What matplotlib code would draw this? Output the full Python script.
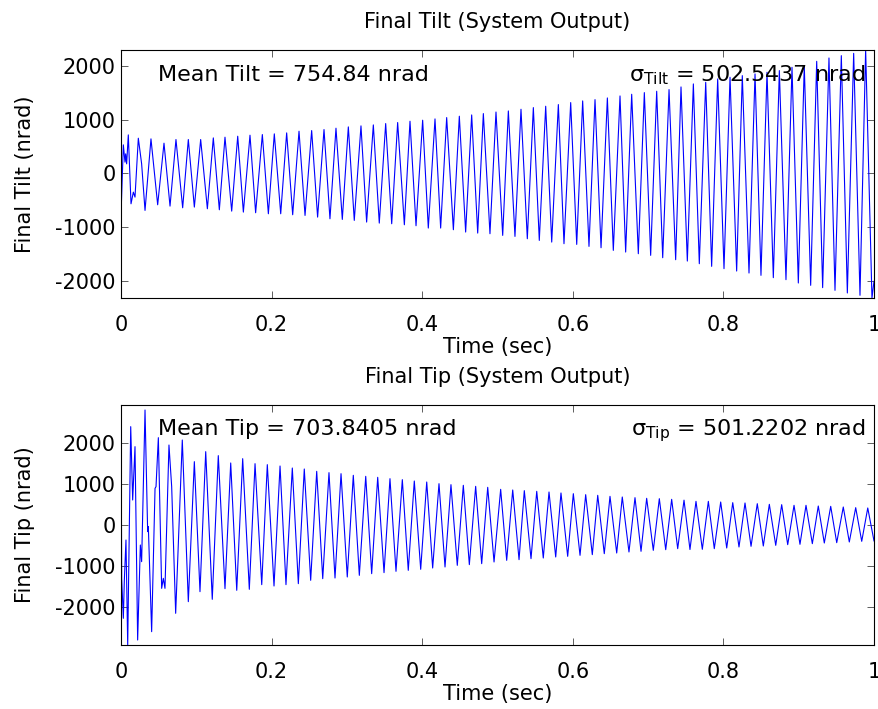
import numpy as np
import matplotlib.pyplot as plt

plt.rcParams['font.family'] = ['DejaVu Sans']
plt.rcParams['mathtext.default'] = 'regular'
plt.rcParams['axes.unicode_minus'] = False

# peaks / troughs (time in sec, value in nrad)
tilt_time = [0.0000, 0.0031, 0.0053, 0.0062, 0.0075, 0.0097, 0.0133, 0.0164, 0.0186, 0.0230,
             0.0274, 0.0319, 0.0398, 0.0487, 0.0571, 0.0651, 0.0730, 0.0819, 0.0894, 0.0974,
             0.1058, 0.1147, 0.1226, 0.1306, 0.1381, 0.1470, 0.1550, 0.1625, 0.1713, 0.1788,
             0.1877, 0.1957, 0.2036, 0.2121, 0.2200, 0.2280, 0.2364, 0.2444, 0.2532, 0.2611,
             0.2696, 0.2775, 0.2855, 0.2939, 0.3019, 0.3098, 0.3187, 0.3262, 0.3351, 0.3430,
             0.3515, 0.3595, 0.3674, 0.3763, 0.3838, 0.3918, 0.4006, 0.4081, 0.4170, 0.4245,
             0.4325, 0.4414, 0.4493, 0.4577, 0.4657, 0.4737, 0.4812, 0.4900, 0.4980, 0.5069,
             0.5144, 0.5232, 0.5312, 0.5396, 0.5476, 0.5555, 0.5640, 0.5720, 0.5808, 0.5883,
             0.5972, 0.6052, 0.6131, 0.6215, 0.6295, 0.6375, 0.6459, 0.6538, 0.6627, 0.6702,
             0.6782, 0.6870, 0.6950, 0.7034, 0.7114, 0.7194, 0.7278, 0.7366, 0.7437, 0.7521,
             0.7601, 0.7680, 0.7765, 0.7844, 0.7924, 0.8008, 0.8088, 0.8176, 0.8251, 0.8340,
             0.8420, 0.8499, 0.8579, 0.8663, 0.8743, 0.8831, 0.8911, 0.8995, 0.9074, 0.9159,
             0.9239, 0.9318, 0.9402, 0.9482, 0.9566, 0.9646, 0.9730, 0.9814, 0.9889, 0.9973,
             1.0000]
tilt_nrad = [-778, 531, 210, 364, 179, 716, -562, -346, -438, 654,
             179, -685, 642, -580, 562, -605, 630, -636, 630, -623,
             630, -654, 660, -673, 673, -698, 691, -716, 710, -728,
             722, -747, 735, -747, 753, -765, 784, -778, 796, -809,
             815, -840, 840, -852, 864, -870, 883, -901, 901, -920,
             926, -932, 945, -951, 969, -969, 988, -1012, 1012, -1012,
             1037, -1043, 1062, -1086, 1086, -1105, 1111, -1117, 1140, -1148,
             1160, -1167, 1191, -1210, 1222, -1241, 1247, -1272, 1278, -1302,
             1315, -1315, 1346, -1352, 1370, -1377, 1401, -1426, 1438, -1457,
             1469, -1488, 1500, -1518, 1525, -1562, 1556, -1599, 1605, -1624,
             1661, -1673, 1691, -1722, 1753, -1765, 1784, -1809, 1815, -1846,
             1846, -1889, 1877, -1932, 1908, -1969, 1969, -2031, 2000, -2074,
             2080, -2117, 2142, -2167, 2185, -2216, 2228, -2259, 2290, -2309,
             -2000]

tip_time = [0.0000, 0.0009, 0.0031, 0.0044, 0.0066, 0.0089, 0.0129, 0.0155, 0.0186, 0.0221,
            0.0257, 0.0274, 0.0319, 0.0354, 0.0363, 0.0407, 0.0452, 0.0465, 0.0496, 0.0540,
            0.0562, 0.0584, 0.0637, 0.0673, 0.0726, 0.0814, 0.0894, 0.0974, 0.1049, 0.1125,
            0.1212, 0.1292, 0.1381, 0.1457, 0.1537, 0.1616, 0.1704, 0.1780, 0.1869, 0.1943,
            0.2032, 0.2112, 0.2191, 0.2275, 0.2355, 0.2434, 0.2519, 0.2599, 0.2679, 0.2762,
            0.2842, 0.2922, 0.3005, 0.3085, 0.3165, 0.3250, 0.3329, 0.3409, 0.3493, 0.3572,
            0.3652, 0.3736, 0.3815, 0.3895, 0.3980, 0.4060, 0.4139, 0.4223, 0.4303, 0.4382,
            0.4466, 0.4546, 0.4626, 0.4710, 0.4790, 0.4870, 0.4954, 0.5042, 0.5122, 0.5202,
            0.5286, 0.5356, 0.5445, 0.5521, 0.5608, 0.5684, 0.5773, 0.5843, 0.5932, 0.6007,
            0.6096, 0.6171, 0.6259, 0.6331, 0.6418, 0.6494, 0.6583, 0.6657, 0.6746, 0.6826,
            0.6906, 0.6981, 0.7069, 0.7149, 0.7234, 0.7313, 0.7393, 0.7477, 0.7556, 0.7636,
            0.7720, 0.7800, 0.7879, 0.7964, 0.8044, 0.8124, 0.8207, 0.8287, 0.8367, 0.8450,
            0.8530, 0.8610, 0.8695, 0.8774, 0.8854, 0.8938, 0.9017, 0.9097, 0.9181, 0.9260,
            0.9340, 0.9425, 0.9505, 0.9592, 0.9672, 0.9757, 0.9837, 0.9917, 1.0000]
tip_nrad = [2935, -1300, -2268, -1358, -358, -2919, 2407, 618, 1919, -2797,
            -480, -886, 2813, -154, -32, -2594, 902, 943, 2138, -1537,
            -1293, -1537, 1959, 943, -2146, 2081, -1862, 1553, -1618, 1797,
            -1805, 1700, -1545, 1521, -1585, 1626, -1561, 1504, -1447, 1480,
            -1480, 1447, -1447, 1398, -1423, 1374, -1341, 1317, -1301, 1285,
            -1285, 1260, -1260, 1220, -1220, 1195, -1179, 1171, -1154, 1138,
            -1122, 1114, -1098, 1081, -1073, 1057, -1041, 1016, -1016, 992,
            -976, 976, -959, 951, -935, 927, -894, 878, -854, 862,
            -837, 846, -813, 829, -797, 813, -772, 789, -756, 772,
            -732, 748, -715, 732, -691, 707, -675, 691, -650, 675,
            -634, 659, -610, 650, -594, 634, -569, 614, -590, 585,
            -585, 585, -569, 569, -553, 553, -528, 545, -512, 528,
            -504, 512, -488, 504, -471, 488, -463, 488, -447, 471,
            -431, 463, -423, 447, -406, 431, -390, 423, -380]

mean_tilt = '754.84'
std_tilt = '502.5437'
mean_tip = '703.8405'
std_tip = '501.2202'

xticks = [0, 0.2, 0.4, 0.6, 0.8, 1]
xticklabels = ['0', '0.2', '0.4', '0.6', '0.8', '1']
yticks = [-2000, -1000, 0, 1000, 2000]

fig = plt.figure(figsize=(8.79, 7.09), dpi=100)
ax1 = fig.add_axes([121/879, 1-298/709, 753/879, 248/709])
ax2 = fig.add_axes([121/879, 1-645/709, 753/879, 240/709])

panels = [
    (ax1, tilt_time, tilt_nrad, 'Final Tilt (System Output)', 'Final Tilt (nrad)',
     'Mean Tilt = %s nrad' % mean_tilt, r'$σ_{Tilt}$ = %s nrad' % std_tilt),
    (ax2, tip_time, tip_nrad, 'Final Tip (System Output)', 'Final Tip (nrad)',
     'Mean Tip = %s nrad' % mean_tip, r'$σ_{Tip}$ = %s nrad' % std_tip),
]

for ax, t, v, title, ylab, mtxt, stxt in panels:
    ax.plot(t, v, color='#0000ff', lw=0.8, solid_joinstyle='round')
    ax.set_xlim(0, 1)
    ax.set_ylim(min(v), max(v))
    ax.set_xticks(xticks)
    ax.set_xticklabels(xticklabels)
    ax.set_yticks(yticks)
    ax.tick_params(direction='in', top=True, right=True, length=5, width=0.6,
                   labelsize=15, color='#444444')
    ax.tick_params(axis='x', pad=12)
    ax.tick_params(axis='y', pad=4)
    for s in ax.spines.values():
        s.set_linewidth(0.8)
    ax.set_title(title, fontsize=15, pad=16)
    ax.set_xlabel('Time (sec)', fontsize=15, labelpad=2)
    ax.set_ylabel(ylab, fontsize=15, labelpad=14)
    ax.text(0.049, 0.875, mtxt, transform=ax.transAxes, fontsize=16,
            ha='left', va='baseline')
    ax.text(0.988, 0.875, stxt, transform=ax.transAxes, fontsize=16,
            ha='right', va='baseline')

fig.savefig('out.png', dpi=100)
